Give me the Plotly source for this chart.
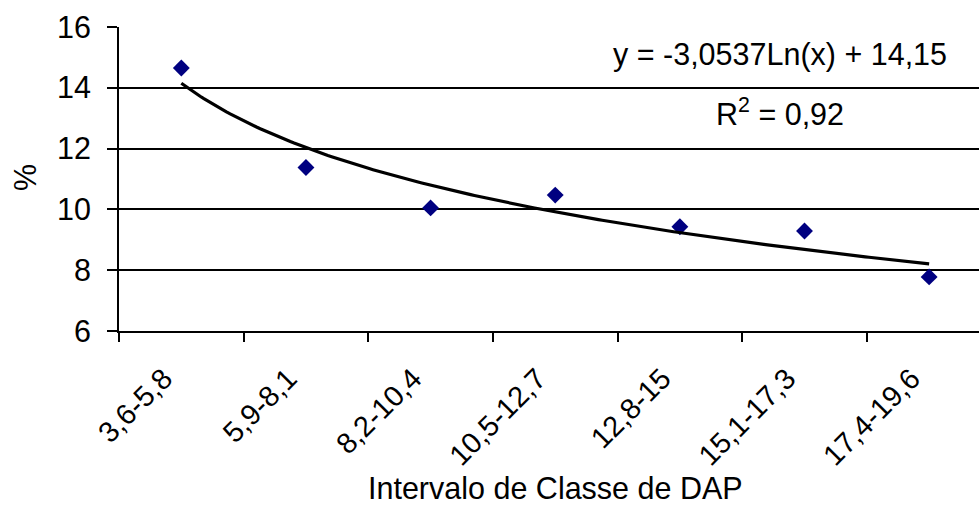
import numpy as np
import plotly.graph_objects as go

categories = ["3,6-5,8", "5,9-8,1", "8,2-10,4", "10,5-12,7", "12,8-15", "15,1-17,3", "17,4-19,6"]
percent = [14.65, 11.38, 10.05, 10.47, 9.43, 9.29, 7.78]
y_ticks = [6, 8, 10, 12, 14, 16]
trend_a = -3.0537
trend_b = 14.15
equation_text = "y = -3,0537Ln(x) + 14,15"
r2_text = "R<sup>2</sup> = 0,92"

FONT = "Liberation Sans, Arial, sans-serif"
FS = 30.5

idx = np.arange(len(categories))
tx = np.linspace(1, len(categories), 200)
ty = trend_a * np.log(tx) + trend_b

fig = go.Figure()
fig.add_trace(go.Scatter(
    x=idx, y=percent, mode="markers",
    marker=dict(symbol="diamond", size=13, color="#000080"),
    showlegend=False, hoverinfo="y"))
fig.add_trace(go.Scatter(
    x=tx - 1, y=ty, mode="lines",
    line=dict(color="black", width=3.2),
    showlegend=False, hoverinfo="skip"))

fig.update_layout(
    width=979, height=518,
    margin=dict(l=119, r=0, t=27, b=187),
    paper_bgcolor="white", plot_bgcolor="white",
    font=dict(family=FONT, size=FS, color="black"),
    xaxis=dict(
        range=[-0.5, 6.40], tickmode="array", tickvals=list(idx - 0.14), ticktext=categories,
        tickangle=-45, ticks="", showgrid=False, zeroline=False, automargin=False,
        showline=True, linecolor="black", linewidth=2,
        ticklabelstandoff=17,
        minor=dict(ticks="outside", tick0=-0.5, dtick=1, ticklen=9, tickwidth=2,
                   tickcolor="black", showgrid=False),
        tickfont=dict(family=FONT, size=29),
    ),
    yaxis=dict(
        range=[6, 16], tickmode="array", tickvals=y_ticks, automargin=False,
        ticks="outside", ticklen=10, tickwidth=2, tickcolor="black",
        showgrid=True, gridcolor="black", gridwidth=1.5,
        zeroline=False, showline=True, linecolor="black", linewidth=2,
        ticklabelstandoff=10,
        tickfont=dict(family=FONT, size=FS),
    ),
    shapes=[dict(type="rect", xref="paper", yref="paper",
                 x0=(607 - 119) / 860, x1=(955 - 119) / 860,
                 y0=(331 - 135) / 304, y1=(331 - 36) / 304,
                 fillcolor="white", line=dict(width=0), layer="between")],
    annotations=[
        dict(text=equation_text, xref="paper", yref="paper", x=0.769, y=0.911,
             showarrow=False, xanchor="center", yanchor="middle",
             font=dict(family=FONT, size=FS)),
        dict(text=r2_text, xref="paper", yref="paper", x=0.769, y=(331 - 112) / 304,
             showarrow=False, xanchor="center", yanchor="middle",
             font=dict(family=FONT, size=FS)),
        dict(text="Intervalo de Classe de DAP", xref="paper", yref="paper",
             x=(555 - 119) / 860, y=(331 - 488) / 304,
             showarrow=False, xanchor="center", yanchor="middle",
             font=dict(family=FONT, size=FS)),
        dict(text="%", xref="paper", yref="paper",
             x=(25 - 119) / 860, y=(331 - 178) / 304, textangle=-90,
             showarrow=False, xanchor="center", yanchor="middle",
             font=dict(family=FONT, size=FS)),
    ],
)

fig.write_html("out.html", config={"displayModeBar": False},
               post_script="document.body.style.margin='0';")
